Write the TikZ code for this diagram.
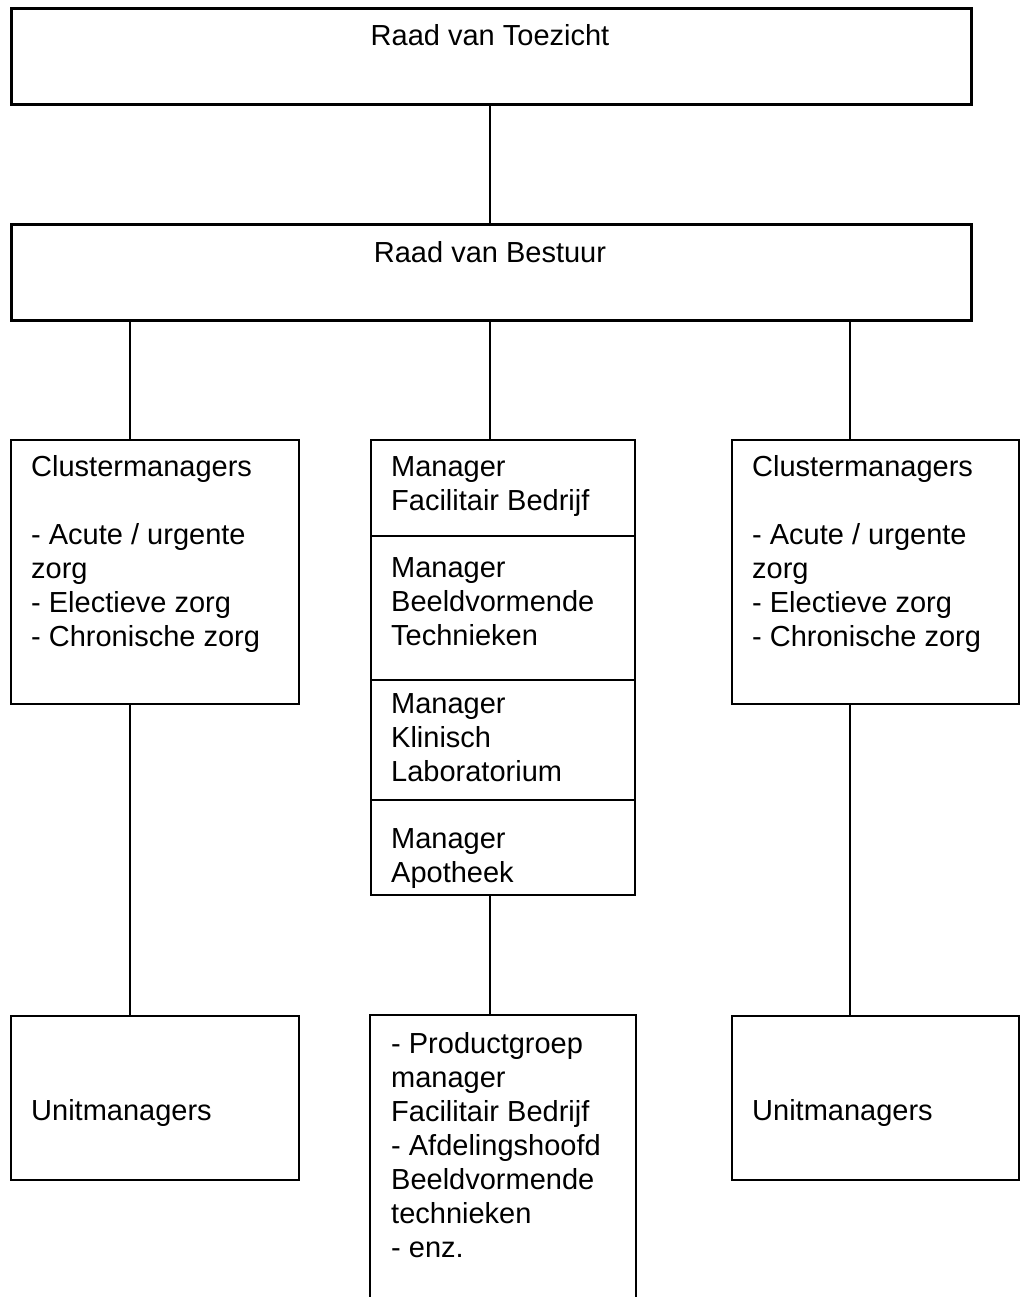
\documentclass[tikz,border=0pt]{standalone}
\usepackage{fontspec}
\setmainfont{Liberation Sans}
\newcommand{\stack}[1]{\begin{tabular}[t]{@{}l@{}}#1\end{tabular}}
\begin{document}
\begin{tikzpicture}[x=1pt,y=-1pt,
  box/.style={draw, line width=2pt, rectangle, inner sep=0pt, anchor=north west},
  topbox/.style={box, line width=3pt},
  link/.style={line width=1.8pt},
  txt/.style={inner sep=0pt, anchor=base west, font=\fontsize{29}{34}\selectfont},
  ctxt/.style={inner sep=0pt, anchor=base, font=\fontsize{29}{34}\selectfont}]
\useasboundingbox[fill=white] (0,0) rectangle (1031,1297);
\clip (0,0) rectangle (1031,1297);

% columns on which the vertical connectors run
\coordinate (colL) at (130,0);
\coordinate (colM) at (490,0);
\coordinate (colR) at (850,0);

% top levels
\node[topbox, minimum width=960pt, minimum height=96pt] (rvt) at (10,7) {};
\node[ctxt] (rvt-t) at (490,46) {Raad van Toezicht};
\node[topbox, minimum width=960pt, minimum height=96pt] (rvb) at (10,223) {};
\node[ctxt] (rvb-t) at (490,262) {Raad van Bestuur};

% cluster managers, left and right
\node[box, minimum width=288pt, minimum height=264pt] (clL) at (10,439) {};
\node[txt] (clL-t) at (31,476) {\stack{Clustermanagers\\ \\- Acute / urgente\\zorg\\- Electieve zorg\\- Chronische zorg}};
\node[box, minimum width=287pt, minimum height=264pt] (clR) at (731,439) {};
\node[txt] (clR-t) at (752,476) {\stack{Clustermanagers\\ \\- Acute / urgente\\zorg\\- Electieve zorg\\- Chronische zorg}};

% stacked managers in the middle
\node[box, minimum width=264pt, minimum height=96pt] (mfb) at (370,439) {};
\node[txt] (mfb-t) at (391,476) {\stack{Manager\\Facilitair Bedrijf}};
\node[box, minimum width=264pt, minimum height=144pt] (mbt) at (370,535) {};
\node[txt] (mbt-t) at (391,577) {\stack{Manager\\Beeldvormende\\Technieken}};
\node[box, minimum width=264pt, minimum height=120pt] (mkl) at (370,679) {};
\node[txt] (mkl-t) at (391,713) {\stack{Manager\\Klinisch\\Laboratorium}};
\node[box, minimum width=264pt, minimum height=95pt] (map) at (370,799) {};
\node[txt] (map-t) at (391,848) {\stack{Manager\\Apotheek}};

% unit managers
\node[box, minimum width=288pt, minimum height=164pt] (unL) at (10,1015) {};
\node[txt] (unL-t) at (31,1120) {Unitmanagers};
\node[box, minimum width=287pt, minimum height=164pt] (unR) at (731,1015) {};
\node[txt] (unR-t) at (752,1120) {Unitmanagers};

% product group box, running past the lower edge
\node[box, draw=none, minimum width=264pt, minimum height=300pt] (pg) at (370,1015) {};
\draw[line width=2pt] (pg.south west) -- (pg.north west) -- (pg.north east) -- (pg.south east);
\node[txt] (pg-t) at (391,1053) {\stack{- Productgroep\\manager\\Facilitair Bedrijf\\- Afdelingshoofd\\Beeldvormende\\technieken\\- enz.}};

% connectors
\draw[link] (rvt.south -| colM) -- (rvb.north -| colM);
\draw[link] (rvb.south -| colL) -- (clL.north -| colL);
\draw[link] (rvb.south -| colM) -- (mfb.north -| colM);
\draw[link] (rvb.south -| colR) -- (clR.north -| colR);
\draw[link] (clL.south -| colL) -- (unL.north -| colL);
\draw[link] (map.south -| colM) -- (pg.north -| colM);
\draw[link] (clR.south -| colR) -- (unR.north -| colR);
\end{tikzpicture}
\end{document}
